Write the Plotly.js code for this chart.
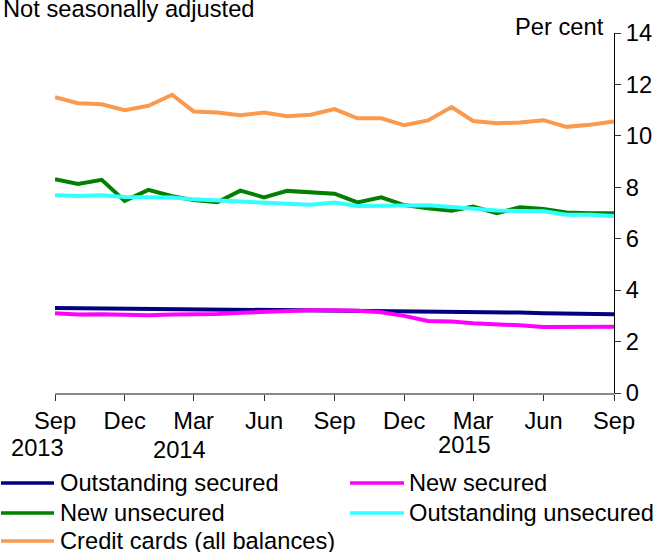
<!DOCTYPE html>
<html>
<head>
<meta charset="utf-8">
<script src="https://cdn.plot.ly/plotly-3.0.1.min.js"></script>
<style>html,body{margin:0;padding:0;background:#fff;}#chart{width:666px;height:552px;}</style>
</head>
<body>
<div id="chart"></div>
<script>
var months = ["2013-09-01","2013-10-01","2013-11-01","2013-12-01","2014-01-01","2014-02-01","2014-03-01","2014-04-01","2014-05-01","2014-06-01","2014-07-01","2014-08-01","2014-09-01","2014-10-01","2014-11-01","2014-12-01","2015-01-01","2015-02-01","2015-03-01","2015-04-01","2015-05-01","2015-06-01","2015-07-01","2015-08-01","2015-09-01"];
var outstandingSecured = [3.31,3.30,3.31,3.29,3.29,3.28,3.27,3.26,3.27,3.26,3.25,3.24,3.23,3.22,3.21,3.20,3.19,3.18,3.16,3.14,3.13,3.10,3.08,3.07,3.06];
var newSecured = [3.10,3.05,3.06,3.05,3.02,3.05,3.06,3.07,3.12,3.16,3.20,3.22,3.22,3.20,3.14,3.00,2.80,2.78,2.71,2.68,2.63,2.57,2.58,2.58,2.58];
var newUnsecured = [8.31,8.13,8.29,7.47,7.90,7.65,7.50,7.42,7.87,7.61,7.86,7.81,7.75,7.41,7.61,7.31,7.18,7.09,7.25,6.99,7.22,7.16,7.02,6.99,6.99];
var outstandingUnsecured = [7.69,7.66,7.69,7.62,7.61,7.60,7.53,7.48,7.42,7.40,7.36,7.32,7.41,7.27,7.27,7.27,7.30,7.23,7.16,7.10,7.08,7.07,6.93,6.93,6.88];
var creditCards = [11.50,11.27,11.23,11.00,11.17,11.60,10.95,10.91,10.80,10.91,10.76,10.82,11.04,10.68,10.68,10.41,10.60,11.12,10.58,10.49,10.52,10.61,10.35,10.43,10.56];
var tickDates = ["2013-09-01","2013-12-01","2014-03-01","2014-06-01","2014-09-01","2014-12-01","2015-03-01","2015-06-01","2015-09-01"];
var tickLabels = ["Sep","Dec","Mar","Jun","Sep","Dec","Mar","Jun","Sep"];
var yearLabels = ["2013","2014","2015"];
var yTicks = [0,2,4,6,8,10,12,14];
var seriesNames = ["Outstanding secured","New secured","New unsecured","Outstanding unsecured","Credit cards (all balances)"];
var seriesColors = ["#000080","#ff00ff","#008000","#33ffff","#fa9a4e"];
var seriesData = [outstandingSecured,newSecured,newUnsecured,outstandingUnsecured,creditCards];

var FONT = "Liberation Sans, Arial, sans-serif";
var FS = 23.7;
// plot area in pixels
var L = 55, R = 614, T = 33, B = 393;
function px(x){ return (x - L) / (R - L); }
function py(y){ return (B - y) / (B - T); }

var traces = seriesData.map(function(d,i){
  return {x: months, y: d, type: "scatter", mode: "lines", name: seriesNames[i],
    line: {color: seriesColors[i], width: 4}, hoverinfo: "skip", showlegend: false};
});

var annotations = [
  {text: "Not seasonally adjusted", xref: "paper", yref: "paper", x: px(1), y: py(9),
    xanchor: "left", yanchor: "middle", showarrow: false},
  {text: "Per cent", xref: "paper", yref: "paper", x: px(606), y: py(27),
    xanchor: "right", yanchor: "middle", showarrow: false}
];
var yearPos = [[37,448],[179,450],[464,445]];
yearLabels.forEach(function(t,i){
  annotations.push({text: t, xref: "paper", yref: "paper", x: px(yearPos[i][0]), y: py(yearPos[i][1]),
    xanchor: "center", yanchor: "middle", showarrow: false});
});

// legend drawn as key lines + labels, two columns
var shapes = [];
var colX = [[1,54,58],[350,404,407]];
var rowY = [483,513,541];
seriesNames.forEach(function(n,i){
  var c = colX[i % 2], r = rowY[Math.floor(i / 2)];
  shapes.push({type: "line", xref: "paper", yref: "paper", x0: px(c[0]), x1: px(c[1]),
    y0: py(r), y1: py(r), line: {color: seriesColors[i], width: 3.5}});
  annotations.push({text: n, xref: "paper", yref: "paper", x: px(c[2]), y: py(r),
    xanchor: "left", yanchor: "middle", showarrow: false});
});

var layout = {
  width: 666, height: 552,
  margin: {l: L, r: 666 - R, t: T, b: 552 - B, autoexpand: false},
  paper_bgcolor: "#fff", plot_bgcolor: "#fff",
  font: {family: FONT, size: FS, color: "#000"},
  showlegend: false,
  xaxis: {type: "date", range: ["2013-09-01","2015-09-01"], tickmode: "array",
    tickvals: tickDates, ticktext: tickLabels, ticks: "outside", ticklen: 6,
    tickcolor: "#333", tickwidth: 1, showline: true, linecolor: "#888", linewidth: 2,
    showgrid: false, zeroline: false, tickfont: {size: FS}},
  yaxis: {range: [0,14], side: "right", tickmode: "array", tickvals: yTicks,
    ticks: "outside", ticklen: 6, tickcolor: "#333", showline: true, linecolor: "#000",
    linewidth: 1, showgrid: false, zeroline: false, tickfont: {size: FS}},
  annotations: annotations,
  shapes: shapes
};
Plotly.newPlot("chart", traces, layout, {displayModeBar: false, staticPlot: true});
</script>
</body>
</html>
